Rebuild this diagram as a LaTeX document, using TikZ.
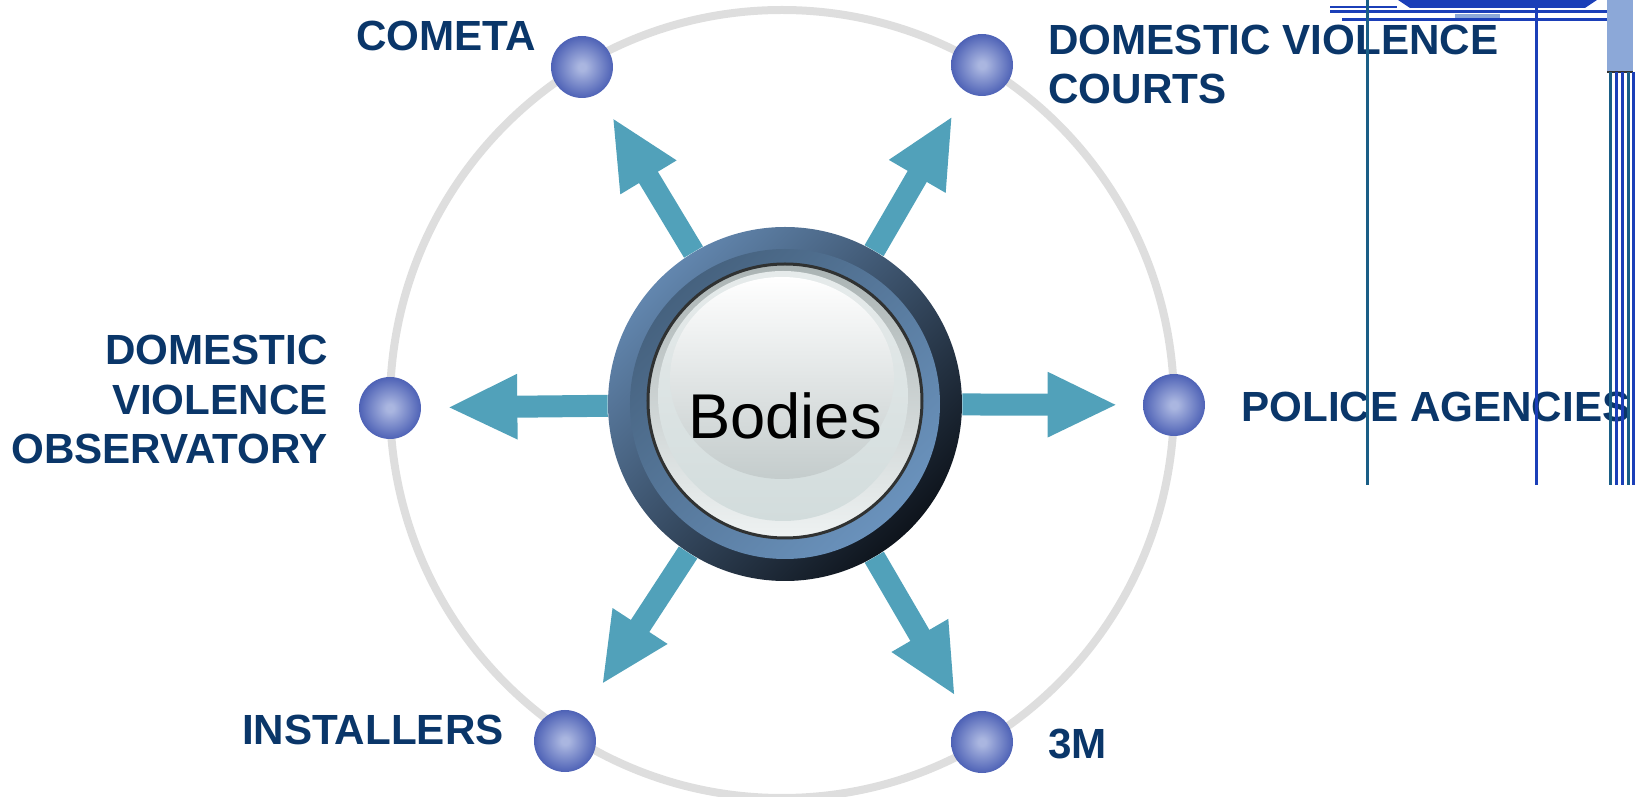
\documentclass[tikz,border=0pt]{standalone}
\usepackage{fontspec}
\setmainfont{Liberation Sans}
\usetikzlibrary{arrows.meta}

\definecolor{ringgray}{HTML}{DEDEDE}
\definecolor{spoketeal}{HTML}{51A1BA}
\definecolor{orbhi}{HTML}{AAB6E0}
\definecolor{orbdk}{HTML}{4E62B6}
\definecolor{labelnavy}{HTML}{0A3669}
\definecolor{hubhi}{HTML}{6286AE}
\definecolor{hubdk}{HTML}{0E141C}
\definecolor{bandhi}{HTML}{6A92BC}
\definecolor{banddk}{HTML}{46627F}
\definecolor{rimdark}{HTML}{303232}
\definecolor{bevelgray}{HTML}{AAB3B3}
\definecolor{bevellight}{HTML}{EEF2F2}
\definecolor{facehi}{HTML}{E6EBEB}
\definecolor{facelo}{HTML}{D2DCDC}
\definecolor{glosslo}{HTML}{C4CCCC}
\definecolor{decoblue}{HTML}{1B3FB8}
\definecolor{decoteal}{HTML}{1A5E86}
\definecolor{decolight}{HTML}{8CA8D8}

\pgfdeclareradialshading{orb}{\pgfpoint{0bp}{0bp}}{color(0bp)=(orbhi); color(3bp)=(orbhi); color(25bp)=(orbdk); color(50bp)=(orbdk)}

\begin{document}
\begin{tikzpicture}[
    orb/.style={circle, shade, shading=orb, minimum size=1.24cm, inner sep=0},
    spoke/.style={-{Triangle[length=1.4cm,width=1.2cm]}, line width=0.44cm, draw=spoketeal, shorten >=0.55cm},
    partner/.style={font=\fontsize{24}{28}\selectfont\bfseries, text=labelnavy, inner sep=0},
    hub/.style={circle, minimum size=7.08cm, inner sep=0, top color=hubhi, bottom color=hubdk, shading angle=45},
    deco/.style={line width=0.06cm}
]
\useasboundingbox (-15.64,-7.86) rectangle (17.12,8.08);

\draw[ringgray, line width=0.16cm] (0,0) ellipse (7.84 and 7.88);

\node[orb] (cometaorb) at (-4.00,6.74) {};
\node[orb] (courtsorb) at (4.00,6.78) {};
\node[orb] (observorb) at (-7.84,-0.08) {};
\node[orb] (policeorb) at (7.84,-0.02) {};
\node[orb] (installorb) at (-4.34,-6.74) {};
\node[orb] (mmmorb) at (4.00,-6.76) {};

% central button
\node[hub] (hub) at (0.06,0.0) {};
\shade[top color=banddk, bottom color=bandhi, shading angle=45] (hub.center) circle (3.10);
\draw[line width=0.06cm, draw=rimdark, top color=bevelgray, bottom color=bevellight] (0.06,0.06) circle (2.74);
\shade[top color=facehi, bottom color=facelo] (0.02,0.16) circle (2.5);
\shade[top color=white, bottom color=glosslo] (0,0.52) ellipse (2.24 and 2.02);
\node[font=\fontsize{36}{40}\selectfont, inner sep=0] (bodies) at (0.06,-0.24) {Bodies};

\draw[spoke] (hub) -- (cometaorb);
\draw[spoke] (hub) -- (courtsorb);
\draw[spoke, shorten >=0.52cm] (hub) -- (observorb);
\draw[spoke, shorten >=0.50cm] (hub) -- (policeorb);
\draw[spoke, shorten >=0.72cm] (hub) -- (installorb);
\draw[spoke, shorten >=0.44cm] (hub) -- (mmmorb);

\node[partner, anchor=north east] (cometa) at (-4.92,7.66) {COMETA};
\node[partner, anchor=north west, align=left] (courts) at (5.32,7.58) {DOMESTIC VIOLENCE\\COURTS};
\node[partner, anchor=north east, align=right] (observ) at (-9.08,1.38) {DOMESTIC\\VIOLENCE\\OBSERVATORY};
\node[partner, anchor=north west] (police) at (9.18,0.24) {POLICE AGENCIES};
\node[partner, anchor=north east] (install) at (-5.56,-6.22) {INSTALLERS};
\node[partner, anchor=north west] (mmm) at (5.32,-6.50) {3M};

% stripes in the upper right corner
\fill[decoblue] (12.32,8.08) -- (16.30,8.08) -- (16.06,7.92) -- (12.56,7.92) -- cycle;
\draw[deco, decoblue] (10.96,7.84) -- (16.50,7.84);
\draw[deco, decoblue] (11.20,7.68) -- (16.50,7.68);
\draw[line width=0.03cm, decoblue] (10.96,7.94) -- (12.30,7.94);
\fill[decolight] (13.46,7.80) rectangle (14.36,7.72);
\draw[deco, decoteal] (11.70,8.08) -- (11.70,-1.62);
\draw[deco, decoblue] (15.08,8.08) -- (15.08,-1.62);
\fill[decolight] (16.50,8.08) rectangle (17.02,6.64);
\draw[line width=0.05cm, black!80] (16.50,6.64) -- (17.02,6.64);
\foreach \x/\c in {16.56/decoteal, 16.68/decoblue, 16.80/decoblue, 16.92/decoteal, 17.02/decoblue}
  \draw[deco, \c] (\x,6.64) -- (\x,-1.62);
\end{tikzpicture}
\end{document}
